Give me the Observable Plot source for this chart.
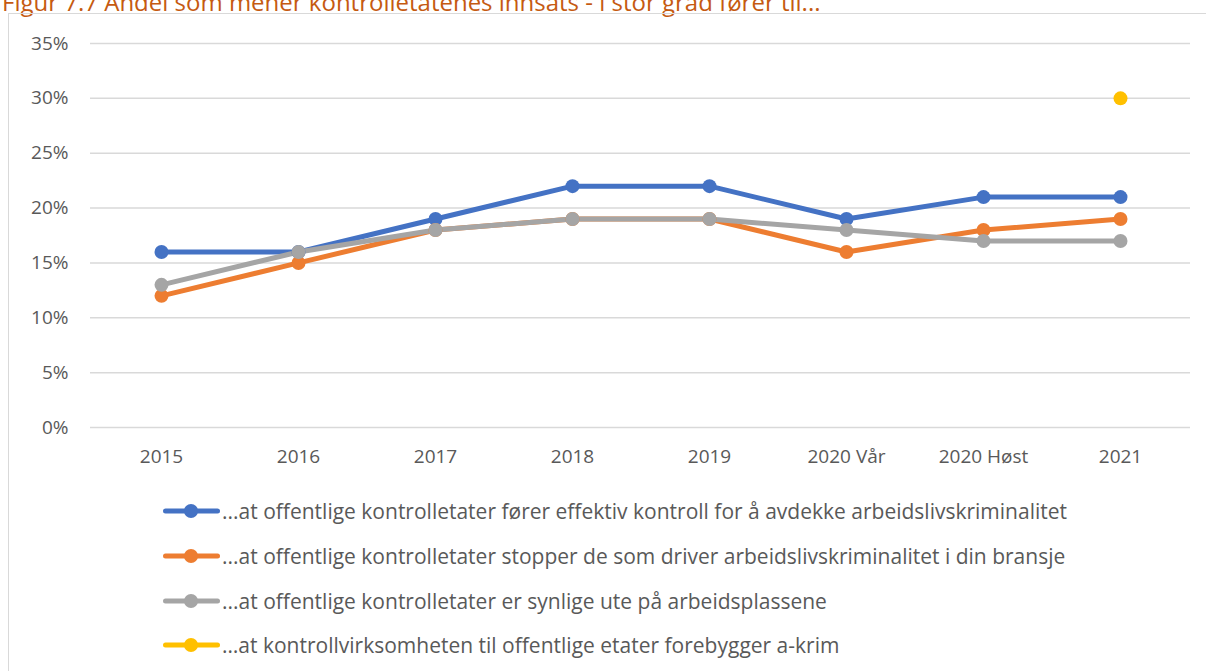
<!DOCTYPE html>
<html>
<head>
<meta charset="utf-8">
<script src="https://cdn.jsdelivr.net/npm/d3@7"></script>
<script src="https://cdn.jsdelivr.net/npm/@observablehq/plot@0.6"></script>
<style>
  html, body { margin: 0; padding: 0; background: #fff; overflow: hidden; width: 1206px; height: 671px; }
  body { position: relative; font-family: "Open Sans", sans-serif; }
  #title { position: absolute; left: 2px; top: -15px; font-size: 24px; color: #C55A11; white-space: nowrap; }
  #frame { position: absolute; left: 8px; top: 13px; width: 1300px; height: 700px; border: 1px solid #D9D9D9; box-sizing: border-box; background: transparent; }
  #chart { position: absolute; left: 0; top: 0; }
  #legend { position: absolute; left: 163px; top: 489px; }
  .row { display: flex; align-items: center; height: 44.7px; font-size: 21px; color: #595959; white-space: nowrap; }
  .row svg { margin-right: 2px; }
</style>
</head>
<body>
<div id="title">Figur 7.7 Andel som mener kontrolletatenes innsats - i stor grad fører til...</div>
<div id="frame"></div>
<div id="chart"></div>
<div id="legend"></div>
<script>
const categories = ["2015", "2016", "2017", "2018", "2019", "2020 Vår", "2020 Høst", "2021"];
const seriesNames = [
  "...at offentlige kontrolletater fører effektiv kontroll for å avdekke arbeidslivskriminalitet",
  "...at offentlige kontrolletater stopper de som driver arbeidslivskriminalitet i din bransje",
  "...at offentlige kontrolletater er synlige ute på arbeidsplassene",
  "…at kontrollvirksomheten til offentlige etater forebygger a-krim"
];
const colors = ["#4472C4", "#ED7D31", "#A5A5A5", "#FFC000"];
const effektiv = [16, 16, 19, 22, 22, 19, 21, 21];
const stopper = [12, 15, 18, 19, 19, 16, 18, 19];
const synlige = [13, 16, 18, 19, 19, 18, 17, 17];
const forebygger = [null, null, null, null, null, null, null, 30];
const yTicks = [0, 5, 10, 15, 20, 25, 30, 35];

const seriesValues = [effektiv, stopper, synlige, forebygger];
const data = [];
seriesValues.forEach((vals, s) => {
  vals.forEach((v, i) => {
    if (v != null) data.push({series: seriesNames[s], cat: categories[i], value: v / 100});
  });
});

const chart = Plot.plot({
  width: 1206,
  height: 480,
  marginLeft: 90,
  marginRight: 16,
  marginTop: 43,
  marginBottom: 53,
  style: { fontFamily: "Open Sans, sans-serif", fontSize: "19px", color: "#595959", background: "transparent" },
  x: { type: "point", domain: categories, padding: 0.5, label: null, tickSize: 0, tickPadding: 22 },
  y: { domain: [0, 0.35], ticks: yTicks.map(d => d / 100), tickFormat: d => Math.round(d * 100) + "%", label: null, tickSize: 0, tickPadding: 22 },
  color: { domain: seriesNames, range: colors },
  marks: [
    Plot.gridY(yTicks.map(d => d / 100), { stroke: "#D9D9D9", strokeOpacity: 1, strokeWidth: 1.5 }),
    Plot.axisY(yTicks.map(d => d / 100), { tickSize: 0, tickPadding: 22, tickFormat: d => Math.round(d * 100) + "%", label: null, fill: "#595959", fontSize: 19 }),
    Plot.axisX({ tickSize: 0, tickPadding: 22, label: null, fill: "#595959", fontSize: 19 }),
    Plot.line(data, { x: "cat", y: "value", z: "series", stroke: "series", strokeWidth: 5, strokeLinejoin: "round", strokeLinecap: "round" }),
    Plot.dot(data, { x: "cat", y: "value", fill: "series", r: 7 })
  ]
});
document.getElementById("chart").appendChild(chart);

const legend = document.getElementById("legend");
seriesNames.forEach((name, i) => {
  const row = document.createElement("div");
  row.className = "row";
  row.innerHTML = `<svg width="57" height="16"><line x1="2.5" y1="8" x2="54.5" y2="8" stroke="${colors[i]}" stroke-width="5" stroke-linecap="round"/><circle cx="28" cy="8" r="7" fill="${colors[i]}"/></svg><span>${name}</span>`;
  legend.appendChild(row);
});
</script>
</body>
</html>
